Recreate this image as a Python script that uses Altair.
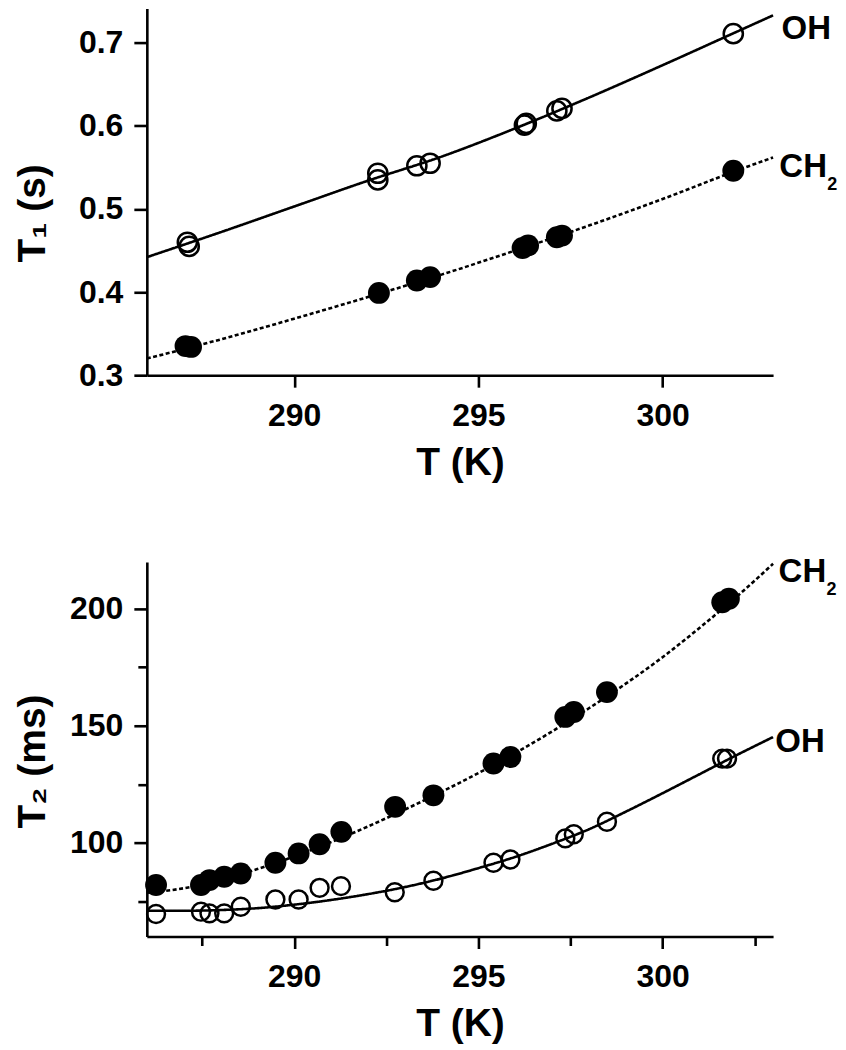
import altair as alt
import pandas as pd

FONT = "Liberation Sans"

# ---------------- shared axis values ----------------
temp_domain = [286, 303]
x_major = [290, 295, 300]
x_minor = [287.5, 292.5, 297.5, 302.5]

# ---------------- top panel: T1 (s) ----------------
t1_oh_temp = [287.10, 287.15, 292.27, 292.27, 293.33, 293.69, 296.25, 296.30, 297.13, 297.27, 301.92]
t1_oh_val = [0.460, 0.455, 0.543, 0.535, 0.552, 0.555, 0.601, 0.603, 0.618, 0.621, 0.711]
t1_ch2_temp = [287.05, 287.20, 292.30, 293.33, 293.69, 296.20, 296.35, 297.13, 297.27, 301.92]
t1_ch2_val = [0.335, 0.334, 0.399, 0.414, 0.418, 0.453, 0.456, 0.466, 0.468, 0.546]
t1_fit_temp = [286, 288, 290, 292, 294, 296, 298, 300, 302, 303]
t1_oh_fit = [0.442, 0.472, 0.503, 0.534, 0.563, 0.597, 0.634, 0.673, 0.713, 0.733]
t1_ch2_fit = [0.320, 0.343, 0.368, 0.394, 0.421, 0.450, 0.480, 0.512, 0.546, 0.562]
t1_ticks = [0.3, 0.4, 0.5, 0.6, 0.7]
t1_domain = [0.3, 0.7411]
t1_label_text = ["OH", "CH"]
t1_label_temp = [303.23, 303.17]
t1_label_val = [0.7040, 0.5383]
t1_sub_text = ["2"]
t1_sub_temp = [303.17]
t1_sub_val = [0.5383]

# ---------------- bottom panel: T2 (ms) ----------------
t2_ch2_temp = [286.25, 287.47, 287.70, 288.10, 288.55, 289.49, 290.12, 290.69, 291.28,
               292.74, 293.78, 295.41, 295.87, 297.36, 297.59, 298.49, 301.62, 301.80]
t2_ch2_val = [82.0, 82.0, 84.1, 85.5, 86.9, 91.5, 95.5, 99.4, 104.7,
              115.4, 120.3, 133.9, 136.7, 153.8, 155.9, 164.4, 202.8, 204.3]
t2_oh_temp = [286.25, 287.47, 287.70, 288.10, 288.55, 289.49, 290.12, 290.69, 291.27,
              292.73, 293.78, 295.41, 295.87, 297.36, 297.59, 298.49, 301.62, 301.75]
t2_oh_val = [69.6, 70.6, 69.9, 69.9, 72.7, 75.8, 75.8, 80.8, 81.5,
             78.9, 83.8, 91.5, 92.9, 101.9, 103.7, 109.0, 136.0, 136.0]
t2_fit_temp = [286, 287, 288, 289, 290, 291, 292, 293, 294, 295, 296, 297, 298, 299, 300, 301, 302, 303]
t2_oh_fit = [71.0, 71.0, 71.3, 72.1, 73.6, 75.6, 78.1, 81.1, 84.8, 89.2, 94.0, 99.6,
             105.8, 113.3, 121.2, 129.3, 137.4, 145.2]
t2_ch2_fit = [78.7, 80.6, 84.0, 88.8, 94.2, 100.3, 107.0, 114.2, 121.8, 129.8, 138.3, 147.6,
              157.5, 168.0, 179.3, 191.8, 205.0, 219.2]
t2_major = [100, 150, 200]
t2_minor = [75, 125, 175]
t2_domain = [60, 220]
t2_label_text = ["CH", "OH"]
t2_label_temp = [303.15, 303.06]
t2_label_val = [211.3, 138.8]
t2_sub_text = ["2"]
t2_sub_temp = [303.15]
t2_sub_val = [211.3]

PLOT_W = 627


def fit_frame(temps, oh, ch2):
    return pd.DataFrame({
        "T": temps + temps,
        "v": oh + ch2,
        "series": ["OH"] * len(temps) + ["CH2"] * len(temps),
    })


def minor_test(major):
    majors = ",".join(str(m) for m in major)
    return "indexof([" + majors + "], datum.value) < 0"


def panel(fit_df, oh_df, ch2_df, lab_df, sub_df, ydom, height, ymajor, yfmt,
          ytitle, title_y, open_size, filled_size, yminor=None, xminor=None):
    xs = alt.Scale(domain=temp_domain, nice=False, zero=False)
    ys = alt.Scale(domain=ydom, nice=False, zero=False)

    x_vals = sorted(x_major + (xminor or []))
    y_vals = sorted(ymajor + (yminor or []))
    x_test = minor_test(x_major)
    y_test = minor_test(ymajor)

    x_ax = alt.Axis(values=x_vals, format="d", title="T (K)", tickCount=40,
                    tickSize={"condition": {"test": x_test, "value": 9}, "value": 12},
                    labelExpr="(" + x_test + ") ? '' : datum.label",
                    labelPadding=13, titlePadding=12, orient="bottom")
    y_ax = alt.Axis(values=y_vals, format=yfmt, title=ytitle, tickCount=40,
                    tickSize={"condition": {"test": y_test, "value": 9}, "value": 13},
                    labelExpr="(" + y_test + ") ? '' : datum.label",
                    labelPadding=11, titleAngle=270, titleAlign="center",
                    titleBaseline="alphabetic", titleX=-102.5, titleY=title_y,
                    orient="left")

    lines = alt.Chart(fit_df).mark_line(color="black", strokeWidth=2.6,
                                        interpolate="monotone").encode(
        x=alt.X("T:Q", scale=xs, axis=x_ax),
        y=alt.Y("v:Q", scale=ys, axis=y_ax),
        strokeDash=alt.StrokeDash("series:N",
                                  scale=alt.Scale(domain=["OH", "CH2"],
                                                  range=[[1, 0], [4, 2.5]]),
                                  legend=None),
        detail="series:N",
    )
    filled = alt.Chart(ch2_df).mark_circle(color="black", opacity=1,
                                           size=filled_size).encode(
        x=alt.X("T:Q", scale=xs, axis=None),
        y=alt.Y("v:Q", scale=ys, axis=None),
    )
    hollow = alt.Chart(oh_df).mark_point(shape="circle", filled=False, color="black",
                                         strokeWidth=2.5, size=open_size,
                                         opacity=1).encode(
        x=alt.X("T:Q", scale=xs, axis=None),
        y=alt.Y("v:Q", scale=ys, axis=None),
    )
    labels = alt.Chart(lab_df).mark_text(align="left", baseline="alphabetic",
                                         font=FONT, fontSize=33, fontWeight="bold",
                                         color="black").encode(
        x=alt.X("T:Q", scale=xs, axis=None),
        y=alt.Y("v:Q", scale=ys, axis=None),
        text="label:N",
    )
    subs = alt.Chart(sub_df).mark_text(align="left", baseline="alphabetic",
                                       font=FONT, fontSize=18, fontWeight="bold",
                                       color="black", dx=48, dy=13).encode(
        x=alt.X("T:Q", scale=xs, axis=None),
        y=alt.Y("v:Q", scale=ys, axis=None),
        text="label:N",
    )
    return alt.layer(lines, filled, hollow, labels, subs).properties(
        width=PLOT_W, height=height
    ).resolve_scale(x="shared", y="shared").resolve_axis(
        x="independent", y="independent")


top = panel(
    fit_frame(t1_fit_temp, t1_oh_fit, t1_ch2_fit),
    pd.DataFrame({"T": t1_oh_temp, "v": t1_oh_val}),
    pd.DataFrame({"T": t1_ch2_temp, "v": t1_ch2_val}),
    pd.DataFrame({"T": t1_label_temp, "v": t1_label_val, "label": t1_label_text}),
    pd.DataFrame({"T": t1_sub_temp, "v": t1_sub_val, "label": t1_sub_text}),
    t1_domain, 367, t1_ticks, ".1f", "T\u2081 (s)", 204.5, 368, 480,
)

bottom = panel(
    fit_frame(t2_fit_temp, t2_oh_fit, t2_ch2_fit),
    pd.DataFrame({"T": t2_oh_temp, "v": t2_oh_val}),
    pd.DataFrame({"T": t2_ch2_temp, "v": t2_ch2_val}),
    pd.DataFrame({"T": t2_label_temp, "v": t2_label_val, "label": t2_label_text}),
    pd.DataFrame({"T": t2_sub_temp, "v": t2_sub_val, "label": t2_sub_text}),
    t2_domain, 375, t2_major, "d", "T\u2082 (ms)", 199.3, 320, 480,
    yminor=t2_minor, xminor=x_minor,
)

chart = alt.vconcat(top, bottom, spacing=187, bounds="flush").properties(
    padding={"left": 5, "top": 0, "right": 0, "bottom": 0},
    background="white",
).configure_view(stroke=None).configure_axis(
    grid=False,
    domainColor="black", domainWidth=2.6,
    tickColor="black", tickWidth=2.6,
    labelFont=FONT, labelFontSize=32, labelFontWeight="bold", labelColor="black",
    titleFont=FONT, titleFontSize=39, titleFontWeight="bold", titleColor="black",
)

chart.save("out.html", embed_options={"renderer": "svg", "actions": False})
